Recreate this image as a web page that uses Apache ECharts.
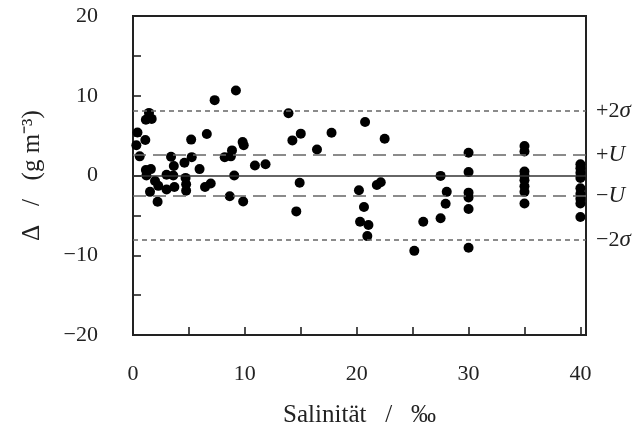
<!DOCTYPE html>
<html>
<head>
<meta charset="utf-8">
<script src="https://cdn.jsdelivr.net/npm/echarts@6/dist/echarts.min.js"></script>
<style>
  html, body { margin: 0; padding: 0; background: #fff; }
  #chart { width: 637px; height: 439px; }
</style>
</head>
<body>
<div id="chart"></div>
<script>
// Salinität (‰) und Abweichung Δ (g m^-3)
var salinity = [
  0.4, 1.43, 1.15, 1.67, 1.1, 0.3, 0.6, 1.15, 1.6, 1.2,
  1.97, 2.26, 1.52, 2.2, 3.0, 3.7, 3.0, 3.6, 3.4, 3.65,
  4.6, 5.25, 4.7, 4.75, 4.75, 5.2, 5.95, 6.44, 6.95, 6.6,
  7.3, 9.2, 8.2, 8.75, 8.85, 9.05, 8.65, 9.8, 9.9, 9.85,
  10.9, 11.85, 13.9, 14.25, 15.0, 14.9, 14.6, 16.45, 17.75, 20.75,
  22.5, 20.2, 20.65, 20.3, 21.05, 20.95, 21.8, 22.15, 25.15, 25.95,
  27.5, 28.05, 27.95, 27.5,
  30, 30, 30, 30, 30, 30,
  35, 35, 35, 35, 35, 35, 35, 35,
  40, 40, 40, 40, 40, 40, 40, 40, 40
];
var delta = [
  5.4, 7.85, 7.0, 7.1, 4.45, 3.8, 2.4, 0.7, 0.8, 0.0,
  -0.7, -1.3, -2.05, -3.3, -1.75, -1.45, 0.1, 0.0, 2.35, 1.2,
  1.6, 2.3, -0.3, -1.1, -1.9, 4.5, 0.8, -1.45, -1.0, 5.2,
  9.45, 10.65, 2.3, 2.4, 3.15, 0.0, -2.6, 4.2, 3.8, -3.25,
  1.25, 1.4, 7.8, 4.4, 5.25, -0.9, -4.5, 3.25, 5.35, 6.7,
  4.6, -1.85, -3.95, -5.8, -6.2, -7.6, -1.2, -0.85, -9.45, -5.8,
  -0.05, -2.05, -3.55, -5.35,
  2.85, 0.45, -2.15, -2.75, -4.2, -9.05,
  3.7, 3.0, 0.5, 0.0, -0.6, -1.35, -2.05, -3.5,
  1.4, 0.9, 0.35, -0.3, -1.6, -2.3, -2.9, -3.5, -5.2
];
var twoSigma = 8.1;
var uLimit = 2.55;

var xTicks = [0, 5, 10, 15, 20, 25, 30, 35, 40];
var xLabels = [0, 10, 20, 30, 40];
var yTicks = [-20, -15, -10, -5, 0, 5, 10, 15, 20];
var yLabels = [-20, -10, 0, 10, 20];

var points = salinity.map(function (s, i) { return [s, delta[i]]; });

var serif = 'Liberation Serif';
var myChart = echarts.init(document.getElementById('chart'));

function refLine(val, label, dash) {
  return {
    yAxis: val,
    lineStyle: { type: dash, color: '#666', width: 1.6 },
    label: {
      show: true,
      position: 'end',
      distance: 10,
      formatter: label,
      rich: {
        r: { fontFamily: serif, fontSize: 22, color: '#222' },
        i: { fontFamily: serif, fontSize: 23, fontStyle: 'italic', color: '#222' }
      }
    }
  };
}

var option = {
  animation: false,
  grid: {
    left: 133, right: 51, top: 16, bottom: 104,
    show: true, borderColor: '#222', borderWidth: 2, backgroundColor: 'transparent'
  },
  xAxis: {
    type: 'value',
    min: 0, max: 40.5,
    name: 'Salinität   /   ‰',
    nameLocation: 'middle',
    nameGap: 68,
    nameTextStyle: { fontFamily: serif, fontSize: 25, color: '#222' },
    axisLine: { show: true, onZero: false, lineStyle: { color: '#222', width: 2 } },
    axisTick: { show: true, inside: true, length: 8, customValues: xTicks, lineStyle: { color: '#222', width: 1.6 } },
    splitLine: { show: false },
    axisLabel: {
      margin: 28, customValues: xLabels,
      fontFamily: serif, fontSize: 22, color: '#222'
    }
  },
  yAxis: {
    type: 'value',
    min: -20, max: 20,
    name: 'Δ   /   (g m⁻³)',
    nameLocation: 'middle',
    nameGap: 88,
    nameRotate: 90,
    nameTextStyle: { fontFamily: serif, fontSize: 25, color: '#222' },
    axisLine: { show: true, onZero: false, lineStyle: { color: '#222', width: 2 } },
    axisTick: { show: true, inside: true, length: 8, customValues: yTicks, lineStyle: { color: '#222', width: 1.6 } },
    splitLine: { show: false },
    axisLabel: {
      margin: 35, customValues: yLabels,
      fontFamily: serif, fontSize: 22, color: '#222',
      formatter: function (v) { return v < 0 ? '−' + Math.abs(v) : String(v); }
    }
  },
  series: [{
    type: 'scatter',
    data: points,
    symbol: 'circle',
    symbolSize: 10,
    itemStyle: { color: '#000', opacity: 1 },
    markLine: {
      silent: true,
      symbol: 'none',
      data: [
        { yAxis: 0, lineStyle: { type: 'solid', color: '#333', width: 1.5 }, label: { show: false } },
        refLine(twoSigma, '{r|+2}{i|σ}', [5, 4]),
        refLine(uLimit, '{r|+}{i|U}', [13, 7]),
        refLine(-uLimit, '{r|−}{i|U}', [13, 7]),
        refLine(-twoSigma, '{r|−2}{i|σ}', [5, 4])
      ]
    }
  }]
};

option && myChart.setOption(option);
</script>
</body>
</html>
